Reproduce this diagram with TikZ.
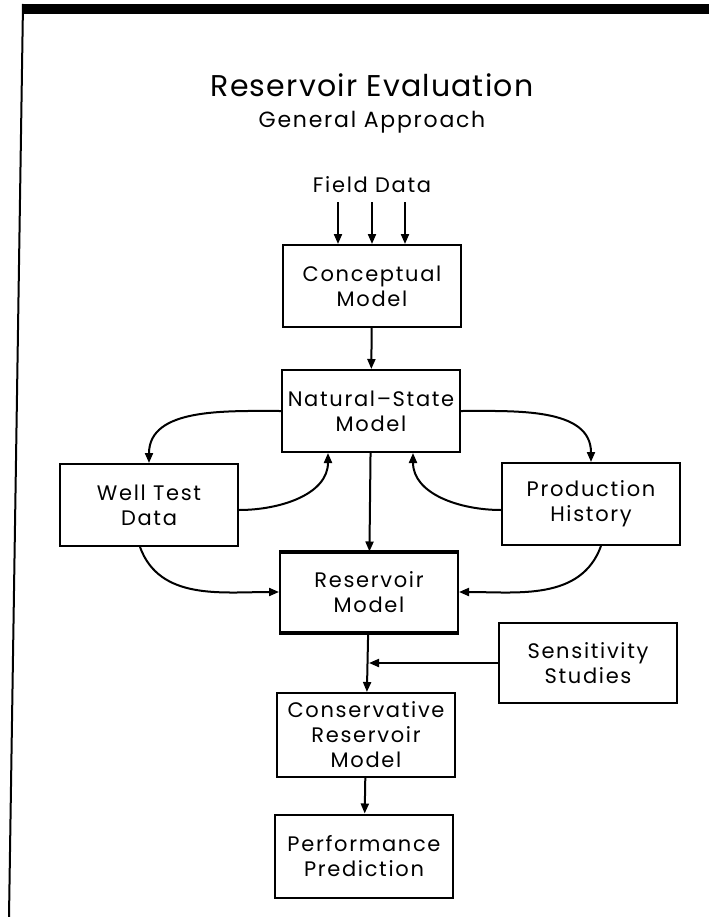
\documentclass[tikz,border=0pt]{standalone}
\usepackage{fontspec}
\setmainfont{Poppins}
\newfontfamily\plotfont[LetterSpace=8]{Poppins}
\newfontfamily\headfont[LetterSpace=4]{Poppins}
\usetikzlibrary{positioning, arrows.meta}

\begin{document}
\begin{tikzpicture}[
    x=1pt, y=-1pt,
    line width=2pt,
    block/.style={draw, rectangle, minimum width=178pt, minimum height=82pt, inner sep=0pt, align=center, font=\plotfont\fontsize{21}{25}\selectfont},
    flow/.style={-{Triangle[length=10pt,width=8pt]}, line width=2pt}
]
    \useasboundingbox (0,0) rectangle (709,917);

    % Frame
    \fill (23,4) rectangle (709,14);
    \draw[line width=2pt] (23,4) -- (9,917);

    % Title
    \node[font=\headfont\fontsize{30}{36}\selectfont] (title) at (372,85) {Reservoir Evaluation};
    \node[font=\plotfont\fontsize{22}{26}\selectfont] (subtitle) at (372,122) {General Approach};

    % Blocks
    \node[font=\plotfont\fontsize{21}{25}\selectfont] (field) at (372,185) {Field Data};
    \node[block] (concept) at (372,286) {Conceptual\\Model};
    \node[block] (natural) at (371,411) {Natural\textendash State\\Model};
    \node[block] (well) at (149,505) {Well Test\\Data};
    \node[block] (prod) at (591,504) {Production\\History};
    \node[block, minimum height=79pt] (res) at (369,592) {Reservoir\\Model};
    \node[block, minimum height=80pt] (sens) at (588,663) {Sensitivity\\Studies};
    \node[block, minimum height=84pt] (cons) at (366,735) {Conservative\\Reservoir\\Model};
    \node[block, minimum height=83pt] (perf) at (364,856) {Performance\\Prediction};

    \draw[line width=4pt] (res.north west) -- (res.north east);
    \draw[line width=4pt] (res.south west) -- (res.south east);

    % Connectors
    \foreach \dx in {-34,0,33}
        \draw[flow] ([xshift=\dx pt, yshift=-5pt]field.south) -- ([xshift=\dx pt]concept.north);
    \draw[flow] (concept) -- (natural);

    \draw[flow] (natural.west) to[out=180,in=90] (well.north);
    \draw[flow] ([yshift=-5pt]well.east) to[out=0,in=-90] ([xshift=-43pt]natural.south);
    \draw[flow] (natural.east) to[out=0,in=90] (prod.north);
    \draw[flow] ([yshift=-6pt]prod.west) to[out=180,in=-90] ([xshift=42pt]natural.south);

    \draw[flow] (natural) -- (res);
    \draw[flow] ([xshift=-9pt]well.south) to[out=-70,in=180] (res.west);
    \draw[flow] ([xshift=10pt]prod.south) to[out=-110,in=0] (res.east);

    \coordinate (merge) at (res.south |- sens.west);
    \draw[flow] (res) -- (cons);
    \draw[flow] (sens.west) -- (merge);
    \draw[flow] (cons) -- (perf);
\end{tikzpicture}
\end{document}
